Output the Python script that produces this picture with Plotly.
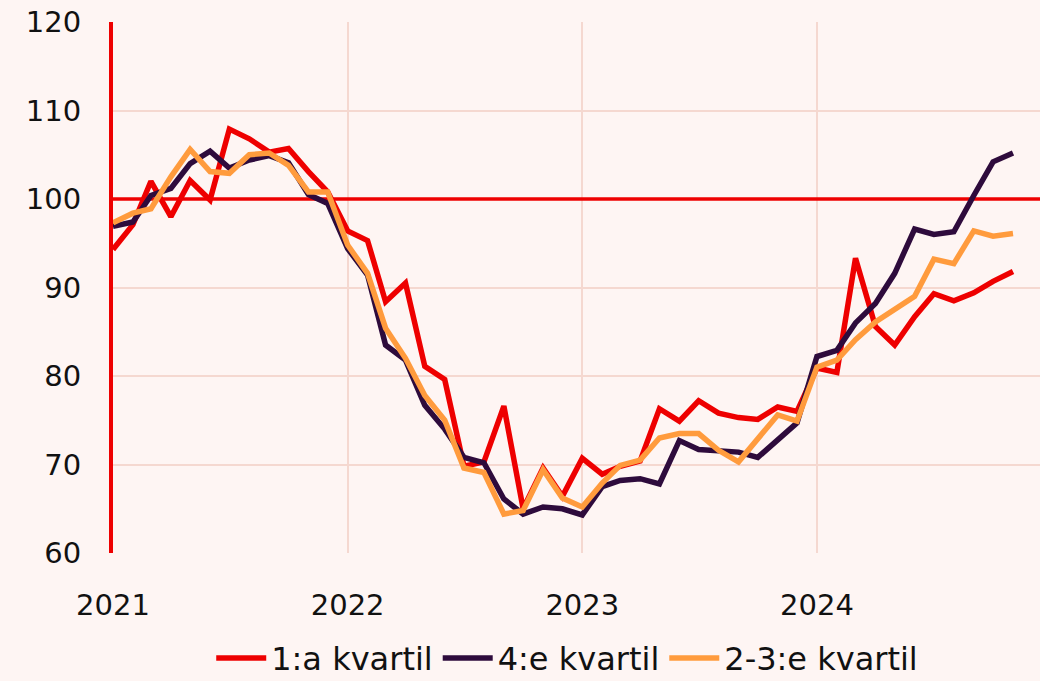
import plotly.graph_objects as go
import pandas as pd

months = pd.date_range("2021-01-01", "2024-11-01", freq="MS")

kvartil_1 = [
    94.3, 97.1, 102.0, 98.0, 102.1, 99.9, 107.9, 106.8, 105.3, 105.7, 103.1, 100.8,
    96.4, 95.3, 88.4, 90.5, 81.1, 79.6, 69.8, 70.3, 76.6, 65.0, 69.6, 66.4,
    70.7, 68.9, 69.8, 70.4, 76.3, 74.9, 77.2, 75.8, 75.3, 75.1, 76.5, 76.0,
    80.9, 80.4, 93.3, 85.6, 83.5, 86.7, 89.3, 88.5, 89.4, 90.7, 91.8,
]
kvartil_4 = [
    96.9, 97.4, 100.4, 101.2, 104.0, 105.4, 103.5, 104.4, 104.9, 104.1, 100.5, 99.5,
    94.4, 91.4, 83.5, 81.8, 76.7, 74.0, 70.8, 70.2, 66.1, 64.4, 65.2, 65.0,
    64.3, 67.5, 68.2, 68.4, 67.8, 72.7, 71.7, 71.6, 71.4, 70.8, 72.8, 74.7,
    82.2, 82.9, 86.0, 88.2, 91.6, 96.6, 96.0, 96.3, 100.4, 104.2, 105.2,
]
kvartil_23 = [
    97.3, 98.4, 98.9, 102.5, 105.6, 103.1, 102.9, 105.0, 105.2, 103.8, 100.8, 100.8,
    94.8, 91.6, 85.4, 82.0, 77.8, 75.0, 69.6, 69.1, 64.4, 64.8, 69.4, 66.2,
    65.2, 67.9, 69.9, 70.5, 73.0, 73.5, 73.5, 71.6, 70.3, 72.8, 75.6, 74.9,
    81.0, 81.8, 84.1, 86.1, 87.6, 89.0, 93.2, 92.7, 96.4, 95.8, 96.1,
]
series_names = ["1:a kvartil", "4:e kvartil", "2-3:e kvartil"]
series_colors = ["#EE0000", "#2E0B3C", "#FF9B3D"]
year_ticks = ["2021-01-01", "2022-01-01", "2023-01-01", "2024-01-01"]
year_labels = ["2021", "2022", "2023", "2024"]
y_ticks = [60, 70, 80, 90, 100, 110, 120]
x_range = ["2021-01-01", "2024-12-13"]
ref_level = 100

FONT = "DejaVu Sans"
BG = "#FEF5F3"
GRID = "#F5D8D0"

fig = go.Figure()
# reference line at index level 100 (drawn first, under the series)
fig.add_trace(go.Scatter(x=x_range, y=[ref_level, ref_level], mode="lines",
                         line=dict(color="#EE0000", width=3.5),
                         showlegend=False, hoverinfo="skip"))
for name, vals, col in zip(series_names, [kvartil_1, kvartil_4, kvartil_23], series_colors):
    fig.add_trace(go.Scatter(x=months, y=vals, mode="lines", name=name,
                             line=dict(color=col, width=5.5)))

fig.update_layout(
    width=1040, height=681,
    paper_bgcolor=BG, plot_bgcolor=BG,
    margin=dict(l=113, r=0, t=22, b=128, autoexpand=False),
    font=dict(family=FONT, size=29, color="#111111"),
    showlegend=True,
    legend=dict(orientation="h", x=0.49, xanchor="center", y=-0.198, yanchor="middle",
                yref="paper", font=dict(size=32), bgcolor="rgba(0,0,0,0)",
                itemwidth=50, tracegroupgap=0),
    xaxis=dict(type="date", range=x_range,
               tickvals=year_ticks, ticktext=year_labels,
               showgrid=True, gridcolor=GRID, gridwidth=2,
               showline=False, zeroline=False, ticks="",
               ticklabelstandoff=32),
    yaxis=dict(range=[60, 120], tickvals=y_ticks,
               showgrid=True, gridcolor=GRID, gridwidth=2,
               showline=True, linecolor="#EE0000", linewidth=4,
               zeroline=False, ticks="", ticklabelstandoff=22),
)

fig.write_html("out.html", config={"displayModeBar": False},
               post_script="document.body.style.margin='0';")
